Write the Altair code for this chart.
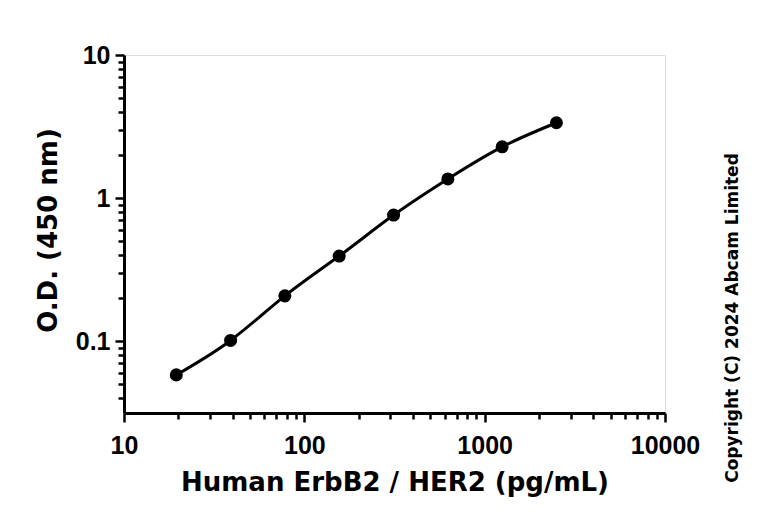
import altair as alt
import pandas as pd

# Data
conc = [19.5, 39, 78, 156, 312.5, 625, 1250, 2500]
od = [0.058, 0.101, 0.207, 0.393, 0.76, 1.36, 2.28, 3.36]

x_ticks = [10, 20, 30, 40, 50, 60, 70, 80, 90,
           100, 200, 300, 400, 500, 600, 700, 800, 900,
           1000, 2000, 3000, 4000, 5000, 6000, 7000, 8000, 9000, 10000]
y_ticks = [0.04, 0.05, 0.06, 0.07, 0.08, 0.09,
           0.1, 0.2, 0.3, 0.4, 0.5, 0.6, 0.7, 0.8, 0.9,
           1, 2, 3, 4, 5, 6, 7, 8, 9, 10]
x_major = [10, 100, 1000, 10000]
y_major = [0.1, 1, 10]
copyright_text = ["Copyright (C) 2024 Abcam Limited"]

df = pd.DataFrame({"conc": conc, "od": od})
df_c = pd.DataFrame({"t": copyright_text})

W, H = 541, 358
LEFT, TOP = 124, 55
LABEL_FONT = "Liberation Sans Narrow, Arial Narrow, Liberation Sans"

x_major_test = "indexof(" + str(x_major) + ", datum.value) >= 0"
y_major_test = "indexof(" + str(y_major) + ", datum.value) >= 0"

x_axis = alt.Axis(
    values=x_ticks,
    labelExpr="indexof(" + str(x_major) + ", datum.value) >= 0 ? toString(datum.value) : ''",
    labelOverlap=False,
    labelFlush=False,
    grid=False,
    domainColor="black",
    domainWidth=3,
    tickColor="black",
    tickWidth=2.5,
    tickSize={"condition": {"test": x_major_test, "value": 9}, "value": 6},
    labelFont=LABEL_FONT,
    labelFontWeight="bold",
    labelFontSize=25,
    labelColor="black",
    labelPadding=11,
    title="Human ErbB2 / HER2 (pg/mL)",
    titleFont="DejaVu Sans",
    titleFontWeight="bold",
    titleFontSize=26,
    titleColor="black",
    titleBaseline="alphabetic",
    titleY=77,
)

y_axis = alt.Axis(
    values=y_ticks,
    labelExpr="datum.value == 0.1 ? '0.1' : datum.value == 1 ? '1' : datum.value == 10 ? '10' : ''",
    labelOverlap=False,
    labelFlush=False,
    grid=False,
    domainColor="black",
    domainWidth=3,
    tickColor="black",
    tickWidth=2.5,
    tickSize={"condition": {"test": y_major_test, "value": 9}, "value": 6},
    labelFont=LABEL_FONT,
    labelFontWeight="bold",
    labelFontSize=25,
    labelColor="black",
    labelPadding=5,
    title="O.D. (450 nm)",
    titleFont="DejaVu Sans",
    titleFontWeight="bold",
    titleFontSize=26,
    titleColor="black",
    titleBaseline="alphabetic",
    titleX=-68,
    titleY=175,
)

xs = alt.Scale(type="log", domain=[10, 10000], nice=False)
ys = alt.Scale(type="log", domain=[0.0314, 10], nice=False)

base = alt.Chart(df).encode(
    x=alt.X("conc:Q", scale=xs, axis=x_axis),
    y=alt.Y("od:Q", scale=ys, axis=y_axis),
)

line = base.mark_line(color="black", strokeWidth=3, interpolate="natural")
points = base.mark_circle(color="black", opacity=1, size=170)

copy = alt.Chart(df_c).mark_text(
    angle=270, font="DejaVu Sans", fontWeight="bold", fontSize=17,
    color="black", align="center", baseline="middle",
).encode(
    text="t:N",
    x=alt.value(733 - LEFT),
    y=alt.value(318 - TOP),
)

chart = alt.layer(line, points, copy).properties(
    width=W, height=H,
    autosize=alt.AutoSizeParams(type="none"),
    padding={"left": LEFT - 8, "top": TOP - 8, "right": 768 - 16 - (LEFT - 8) - W, "bottom": 522 - 16 - (TOP - 8) - H},
).configure_view(stroke=None).configure(background="white")

chart.save("out.html", embed_options={"renderer": "svg", "actions": False})
